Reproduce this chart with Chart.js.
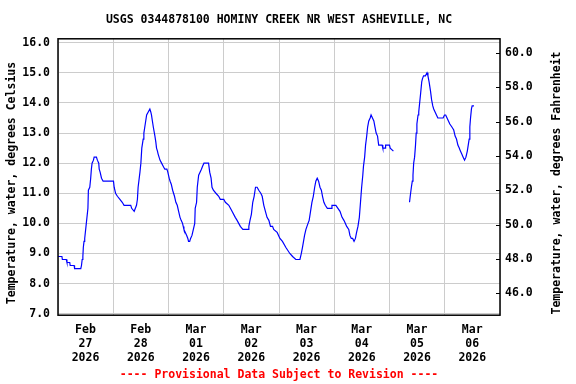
<!DOCTYPE html>
<html>
<head>
<meta charset="utf-8">
<script src="https://cdn.jsdelivr.net/npm/chart.js@4/dist/chart.umd.min.js"></script>
<style>
    html, body { margin: 0; padding: 0; background: #fff; }
    #wrap { width: 576px; height: 384px; }
</style>
</head>
<body>
<div id="wrap"><canvas id="temp-graph" width="576" height="384"></canvas></div>
<script>
const siteTitle = 'USGS 0344878100 HOMINY CREEK NR WEST ASHEVILLE, NC';
const footNote = '---- Provisional Data Subject to Revision ----';
const leftTitle = 'Temperature, water, degrees Celsius';
const rightTitle = 'Temperature, water, degrees Fahrenheit';

// one label per day, the axis starts at 2026-02-27 00:00
const dayLabels = [
    ['Feb', '27', '2026'], ['Feb', '28', '2026'], ['Mar', '01', '2026'], ['Mar', '02', '2026'],
    ['Mar', '03', '2026'], ['Mar', '04', '2026'], ['Mar', '05', '2026'], ['Mar', '06', '2026']
];
const celsiusTicks = [7, 8, 9, 10, 11, 12, 13, 14, 15, 16];
const fahrenheitTicks = [46, 48, 50, 52, 54, 56, 58, 60];

// hours since Feb 27 00:00 (null = missing data)
const hours = [
    0, 1.7, 1.9, 3.6, 3.9, 5.1, 5.3, 7.0, 7.2, 9.9,
    10.2, 10.5, 10.8, 11.0, 11.3, 11.6, 12.3, 13.0, 13.2, 13.8,
    14.2, 14.5, 14.8, 15.4, 15.7, 16.7, 17.1, 17.7, 17.9, 18.3,
    18.9, 19.6, 24.1, 24.4, 25.0, 25.8, 26.9, 27.9, 28.7, 31.6,
    32.0, 33.1, 34.1, 34.5, 34.8, 35.6, 36.0, 36.4, 37.0, 37.3,
    37.7, 38.1, 38.5, 39.2, 39.9, 40.3, 40.6, 41.0, 41.4, 42.1,
    42.5, 42.8, 43.2, 43.5, 44.3, 45.0, 45.7, 46.4, 47.3, 47.7,
    48.3, 48.7, 49.2, 49.8, 50.6, 51.2, 51.8, 52.4, 53.0, 53.5,
    54.1, 54.4, 54.7, 55.3, 55.9, 56.4, 56.7, 57.2, 57.6, 58.2,
    58.8, 59.4, 59.6, 60.2, 60.5, 61.1, 61.7, 62.3, 62.8, 63.4,
    65.4, 65.9, 66.5, 66.9, 67.5, 68.6, 69.8, 70.5, 72.0, 72.7,
    74.2, 74.9, 75.6, 77.0, 77.8, 78.5, 79.2, 80.3, 82.6, 82.9,
    83.4, 84.0, 84.6, 85.2, 85.8, 86.5, 87.2, 88.1, 88.7, 89.4,
    90.1, 90.8, 91.6, 92.3, 93.2, 93.7, 95.2, 96.4, 97.5, 99.0,
    100.7, 101.9, 103.3, 105.1, 105.7, 106.2, 107.1, 107.7, 108.6, 109.1,
    109.7, 110.3, 110.9, 111.5, 112.0, 112.6, 113.2, 113.8, 114.4, 114.9,
    115.5, 116.1, 117.0, 118.7, 119.0, 120.7, 121.6, 122.5, 123.4, 124.2,
    124.8, 125.4, 126.3, 126.8, 127.4, 128.0, 128.6, 129.2, 129.7, 130.3,
    130.9, 131.5, 131.9, 132.4, 132.7, 133.2, 133.6, 134.1, 134.5, 135.0,
    135.6, 136.0, 136.6, 137.2, 137.7, 138.2, 138.8, 139.3, 140.8, 141.1,
    142.1, 142.3, 144.0, 144.3, 145.7, 149.0, 152.7, 153.0, 153.5, 153.9,
    154.2, 154.5, 154.9, 155.3, 155.6, 155.9, 156.4, 156.7, 157.1, 157.5,
    158.0, 158.3, 158.8, 159.6, 160.3, 160.7, 161.2, 161.8, 162.3, 162.8,
    163.2, 163.8, 164.4, 165.0, 167.3, 167.9, 168.4, 169.0, 169.6, 170.2,
    171.1, 171.9, 172.5, 173.1, 173.7, 174.3, 174.8, 175.4, 176.0, 176.6,
    177.2, 177.8, 178.2, 178.6, 178.9, 179.2, 179.6, 179.9, 180.7
];

const tempC = [
    8.9, 8.9, 8.8, 8.8, 8.7, 8.7, 8.6, 8.6, 8.5, 8.5,
    8.6, 8.8, 8.9, 9.2, 9.4, 9.5, 10.0, 10.5, 11.1, 11.2,
    11.5, 11.8, 12.0, 12.1, 12.2, 12.2, 12.1, 12.0, 11.8, 11.7,
    11.5, 11.4, 11.4, 11.2, 11.0, 10.9, 10.8, 10.7, 10.6, 10.6,
    10.5, 10.4, 10.6, 10.8, 11.2, 11.7, 12.0, 12.5, 12.8, 13.0,
    13.2, 13.4, 13.6, 13.7, 13.8, 13.7, 13.6, 13.4, 13.2, 12.9,
    12.7, 12.5, 12.4, 12.3, 12.1, 12.0, 11.9, 11.8, 11.8, 11.7,
    11.5, 11.4, 11.3, 11.1, 10.9, 10.7, 10.6, 10.4, 10.2, 10.1,
    10.0, 9.9, 9.8, 9.7, 9.6, 9.5, 9.4, 9.4, 9.5, 9.6,
    9.8, 10.0, 10.5, 10.7, 11.2, 11.6, 11.7, 11.8, 11.9, 12.0,
    12.0, 11.7, 11.5, 11.2, 11.1, 11.0, 10.9, 10.8, 10.8, 10.7,
    10.6, 10.5, 10.4, 10.2, 10.1, 10.0, 9.9, 9.8, 9.8, 9.9,
    10.1, 10.3, 10.7, 10.9, 11.2, 11.2, 11.1, 11.0, 10.9, 10.6,
    10.4, 10.2, 10.1, 9.9, 9.9, 9.8, 9.7, 9.5, 9.4, 9.2,
    9.0, 8.9, 8.8, 8.8, 9.0, 9.2, 9.6, 9.8, 10.0, 10.1,
    10.4, 10.7, 10.9, 11.2, 11.4, 11.5, 11.4, 11.2, 11.1, 10.9,
    10.7, 10.6, 10.5, 10.5, 10.6, 10.6, 10.5, 10.4, 10.2, 10.1,
    10.0, 9.9, 9.8, 9.6, 9.5, 9.5, 9.4, 9.5, 9.7, 9.9,
    10.2, 10.8, 11.2, 11.6, 11.9, 12.2, 12.6, 12.9, 13.2, 13.4,
    13.5, 13.6, 13.5, 13.4, 13.2, 13.0, 12.9, 12.6, 12.6, 12.5,
    12.5, 12.6, 12.6, 12.5, 12.4, null, 10.7, 10.9, 11.2, 11.4,
    11.6, 12.0, 12.2, 12.6, 13.0, 13.3, 13.6, 13.7, 14.0, 14.3,
    14.7, 14.8, 14.9, 14.9, 15.0, 14.9, 14.7, 14.4, 14.1, 13.9,
    13.8, 13.7, 13.6, 13.5, 13.5, 13.6, 13.6, 13.5, 13.4, 13.3,
    13.2, 13.1, 12.9, 12.8, 12.6, 12.5, 12.4, 12.3, 12.2, 12.1,
    12.2, 12.4, 12.6, 12.8, 13.2, 13.5, 13.8, 13.9, 13.9
];

document.addEventListener('DOMContentLoaded', function() {
    const fontFamily = '"DejaVu Sans Mono", "Liberation Mono", monospace';
    const baseFont = { family: fontFamily, size: 11.5, weight: 'bold', lineHeight: 1.2 };
    const gridColor = '#cccccc';

    const points = hours.map((h, i) => ({ x: h, y: tempC[i] }));

    // frame, inward ticks on the right axis, and the two vertical axis titles
    const framePlugin = {
        id: 'frame',
        afterDraw(chart) {
            const { ctx, chartArea: a, scales } = chart;
            ctx.save();
            ctx.strokeStyle = '#000';
            ctx.lineWidth = 1.5;
            ctx.strokeRect(a.left, a.top, a.right - a.left, a.bottom - a.top);

            ctx.lineWidth = 1;
            scales.yF.ticks.forEach(t => {
                const y = Math.round(scales.yF.getPixelForValue(t.value)) + 0.5;
                ctx.beginPath();
                ctx.moveTo(a.right - 4, y);
                ctx.lineTo(a.right, y);
                ctx.stroke();
            });

            ctx.font = 'bold 11.5px ' + fontFamily;
            ctx.fillStyle = '#000';
            ctx.textAlign = 'center';
            ctx.textBaseline = 'middle';
            [[12, leftTitle], [557, rightTitle]].forEach(([x, text]) => {
                ctx.save();
                ctx.translate(x, 183);
                ctx.rotate(-Math.PI / 2);
                ctx.fillText(text, 0, 0);
                ctx.restore();
            });
            ctx.restore();
        }
    };

    const ctx = document.getElementById('temp-graph').getContext('2d');
    new Chart(ctx, {
        type: 'line',
        data: {
            datasets: [{
                data: points,
                borderColor: '#0000ff',
                borderWidth: 1.2,
                pointRadius: 0,
                tension: 0,
                spanGaps: false,
                xAxisID: 'x',
                yAxisID: 'y'
            }]
        },
        options: {
            responsive: false,
            animation: false,
            devicePixelRatio: 1,
            layout: { padding: 0 },
            plugins: {
                legend: { display: false },
                tooltip: { enabled: false },
                title: {
                    display: true,
                    fullSize: false,
                    text: siteTitle,
                    color: '#000',
                    font: baseFont,
                    padding: { top: 13, bottom: 12 }
                },
                subtitle: {
                    display: true,
                    fullSize: false,
                    position: 'bottom',
                    text: footNote,
                    color: '#ff0000',
                    font: baseFont,
                    padding: { top: 0, bottom: 2 }
                }
            },
            scales: {
                x: {
                    type: 'linear',
                    position: 'bottom',
                    min: 0,
                    max: 192,
                    border: { display: false },
                    grid: { color: gridColor, lineWidth: 1, drawTicks: false },
                    afterBuildTicks: scale => {
                        scale.ticks = dayLabels.map((d, i) => ({ value: i * 24 })).concat([{ value: 192 }]);
                    },
                    ticks: {
                        autoSkip: false,
                        maxRotation: 0,
                        minRotation: 0,
                        padding: 8,
                        labelOffset: 27.5,
                        color: '#000',
                        font: Object.assign({}, baseFont, { lineHeight: '14px' }),
                        callback: value => dayLabels[value / 24] || ''
                    },
                    afterFit: scale => { scale.height = 53; }
                },
                y: {
                    type: 'linear',
                    position: 'left',
                    min: 6.95,
                    max: 16.13,
                    border: { display: false },
                    grid: { color: gridColor, lineWidth: 1, drawTicks: false },
                    afterBuildTicks: scale => {
                        scale.ticks = celsiusTicks.map(v => ({ value: v }));
                    },
                    ticks: {
                        padding: 8,
                        color: '#000',
                        font: baseFont,
                        callback: value => value.toFixed(1)
                    },
                    afterFit: scale => { scale.width = 58; }
                },
                yF: {
                    type: 'linear',
                    position: 'right',
                    min: 44.73,
                    max: 60.83,
                    border: { display: false },
                    grid: { drawOnChartArea: false, drawTicks: false },
                    afterBuildTicks: scale => {
                        scale.ticks = fahrenheitTicks.map(v => ({ value: v }));
                    },
                    ticks: {
                        padding: 5,
                        color: '#000',
                        font: baseFont,
                        callback: value => value.toFixed(1)
                    },
                    afterFit: scale => { scale.width = 76; }
                }
            }
        },
        plugins: [framePlugin]
    });
});
</script>
</body>
</html>
